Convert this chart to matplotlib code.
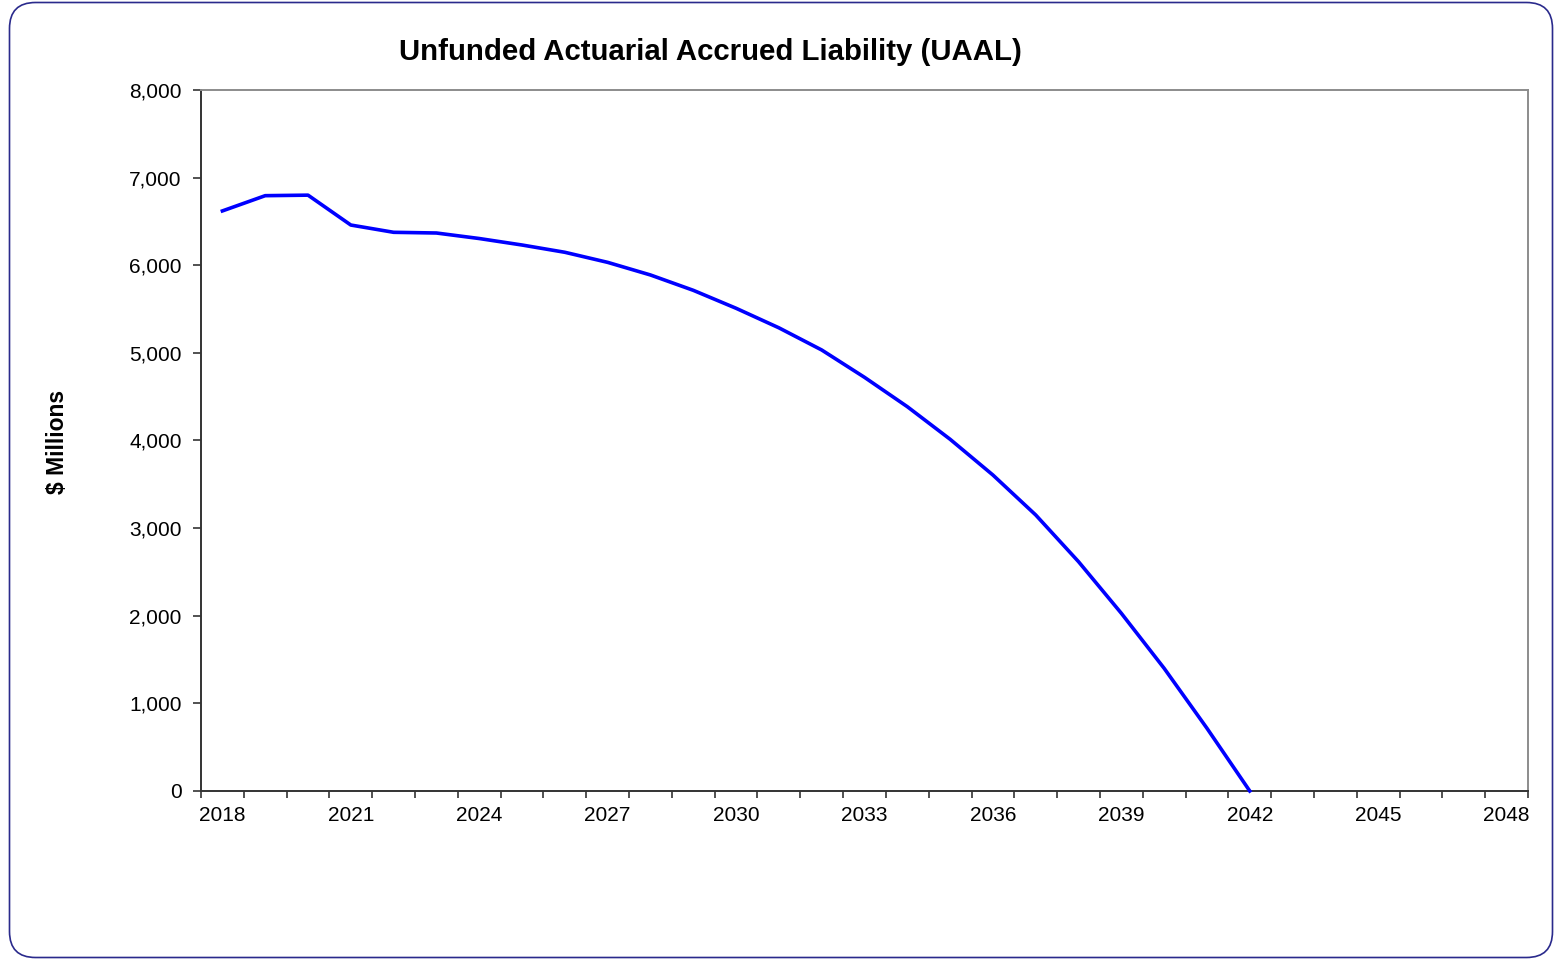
import matplotlib.pyplot as plt
from matplotlib.patches import FancyBboxPatch
from matplotlib.ticker import FixedLocator, FuncFormatter

plt.rcParams['font.family'] = ['Liberation Sans', 'DejaVu Sans']

# UAAL projection, $ millions, one value per plan year
years = list(range(2018, 2049))
uaal = [6620, 6794, 6800, 6459, 6376, 6368, 6305, 6231, 6148, 6033,
        5889, 5714, 5509, 5286, 5033, 4721, 4386, 4014, 3606, 3150,
        2617, 2028, 1400, 716, 0]
label_years = years[::3]

W, H = 1554, 959
fig = plt.figure(figsize=(W / 100, H / 100), dpi=100)

# rounded chart-area frame (pixel units, then scaled to figure fraction)
x0, y0, x1, y1 = 9.5, 1.5, 1552.5, 956.5
frame = FancyBboxPatch((x0 / W, y0 / H), (x1 - x0) / W, (y1 - y0) / H,
                       boxstyle='round,pad=0,rounding_size=%f' % (26 / W),
                       transform=fig.transFigure, facecolor='white',
                       edgecolor='#2a2a8c', linewidth=1.2, zorder=-5,
                       mutation_aspect=W / H)
fig.patches.append(frame)

ax = fig.add_axes([201 / W, 1 - 791 / H, (1528 - 201) / W, (791 - 90) / H])
ax.set_facecolor('none')
ax.set_zorder(2)

x = list(range(len(uaal)))
ax.plot(x, uaal, color='#0000ff', linewidth=2.6, solid_joinstyle='round',
        clip_on=False, zorder=3)

ax.set_xlim(-0.5, len(years) - 0.5)
ax.set_ylim(0, 8000)

# category axis: labels every third year, tick marks between categories
ax.xaxis.set_major_locator(FixedLocator([years.index(y) for y in label_years]))
ax.set_xticklabels([str(y) for y in label_years])
ax.xaxis.set_minor_locator(FixedLocator([i - 0.5 for i in range(len(years) + 1)]))
ax.tick_params(axis='x', which='major', length=0, pad=11, labelsize=15)
ax.tick_params(axis='x', which='minor', length=5, width=1.2, color='#333333',
               direction='out')

ax.set_yticks(range(0, 8001, 1000))
ax.yaxis.set_major_formatter(FuncFormatter(lambda v, p: f'{int(v):,}'))
ax.tick_params(axis='y', length=6, width=1.2, color='#333333', pad=8,
               labelsize=15)

for side in ('left', 'bottom'):
    ax.spines[side].set_color('#333333')
    ax.spines[side].set_linewidth(1.4)
for side in ('right', 'top'):
    ax.spines[side].set_color('#8c8c8c')
    ax.spines[side].set_linewidth(1.4)

fig.text(0.457, 0.946, 'Unfunded Actuarial Accrued Liability (UAAL)',
         ha='center', va='center', fontsize=21.2, fontweight='bold')
fig.text(0.0367, 0.539, '$ Millions', rotation=90, ha='center', va='center',
         fontsize=16.5, fontweight='bold')

fig.savefig('out.png', dpi=100)
